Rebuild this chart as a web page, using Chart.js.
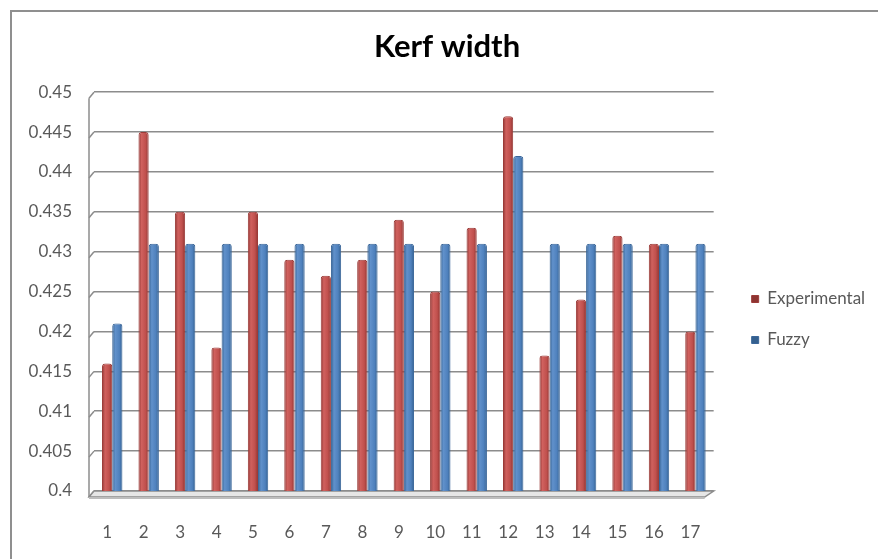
<!DOCTYPE html>
<html>
<head>
<meta charset="utf-8">
<title>Kerf width</title>
<script src="https://cdn.jsdelivr.net/npm/chart.js@4/dist/chart.umd.min.js"></script>
<style>
  html, body { margin: 0; padding: 0; background: #ffffff; }
  #wrap { position: relative; width: 878px; height: 559px; }
  canvas { display: block; }
</style>
</head>
<body>
<div id="wrap"><canvas id="chart" width="878" height="559"></canvas></div>
<script>
// Experiment numbers along the x axis
const runs = ['1','2','3','4','5','6','7','8','9','10','11','12','13','14','15','16','17'];

// Measured kerf width
const experimental = [0.416, 0.445, 0.435, 0.418, 0.435, 0.429, 0.427, 0.429, 0.434, 0.425, 0.433, 0.447, 0.417, 0.424, 0.432, 0.431, 0.420];

// Kerf width predicted by the fuzzy model
const fuzzy = [0.421, 0.431, 0.431, 0.431, 0.431, 0.431, 0.431, 0.431, 0.431, 0.431, 0.431, 0.442, 0.431, 0.431, 0.431, 0.431, 0.431];

// Value axis range and step
const yMin = 0.4;
const yMax = 0.45;
const yStep = 0.005;

const FONT = 'Lato, "Open Sans", "Liberation Sans", sans-serif';
const GRID = '#8c8c8c';

// Horizontal shading so each bar reads like a rounded column
function columnFill(base, light, dark) {
  return (c) => {
    const el = c.element;
    if (!el || !isFinite(el.x) || !el.width) return base;
    const g = c.chart.ctx.createLinearGradient(el.x - el.width / 2, 0, el.x + el.width / 2, 0);
    g.addColorStop(0, dark);
    g.addColorStop(0.3, light);
    g.addColorStop(0.7, base);
    g.addColorStop(1, dark);
    return g;
  };
}

// Outer frame, side wall and floor of the plot box
const boxDecor = {
  id: 'boxDecor',
  beforeDraw(chart) {
    const ctx = chart.ctx;
    ctx.save();
    ctx.fillStyle = '#ffffff';
    ctx.fillRect(0, 0, chart.width, chart.height);
    ctx.strokeStyle = '#8f8f8f';
    ctx.lineWidth = 2;
    ctx.beginPath();
    ctx.moveTo(11, chart.height);
    ctx.lineTo(11, 11);
    ctx.lineTo(chart.width, 11);
    ctx.stroke();
    ctx.restore();
  },
  beforeDatasetsDraw(chart) {
    const ctx = chart.ctx;
    const a = chart.chartArea;
    const y = chart.scales.y;
    const dx = 5, dy = 6;
    ctx.save();
    ctx.strokeStyle = GRID;
    ctx.lineWidth = 1.5;
    // left wall edge
    ctx.beginPath();
    ctx.moveTo(a.left - dx, y.getPixelForValue(yMax) + dy);
    ctx.lineTo(a.left - dx, a.bottom + dy);
    ctx.stroke();
    // short perspective joins from the wall to each gridline
    for (let v = yMin; v <= yMax + 1e-9; v += yStep) {
      const py = y.getPixelForValue(v);
      ctx.beginPath();
      ctx.moveTo(a.left - dx, py + dy);
      ctx.lineTo(a.left, py);
      ctx.stroke();
    }
    // floor slab
    ctx.fillStyle = '#e6e6e6';
    ctx.beginPath();
    ctx.moveTo(a.left, a.bottom);
    ctx.lineTo(a.right, a.bottom);
    ctx.lineTo(a.right - 9, a.bottom + dy);
    ctx.lineTo(a.left - dx, a.bottom + dy);
    ctx.closePath();
    ctx.fill();
    ctx.stroke();
    ctx.strokeStyle = '#bdbdbd';
    ctx.lineWidth = 2;
    ctx.beginPath();
    ctx.moveTo(a.left - dx, a.bottom + dy + 1);
    ctx.lineTo(a.right - 9, a.bottom + dy + 1);
    ctx.stroke();
    ctx.restore();
  }
};

const chart = new Chart(document.getElementById('chart'), {
  type: 'bar',
  data: {
    labels: runs,
    datasets: [
      {
        label: 'Experimental',
        data: experimental,
        backgroundColor: columnFill('#c0504d', '#d0615e', '#8e3431'),
        borderColor: '#9b3b38',
        borderWidth: 1,
        borderRadius: { topLeft: 3, topRight: 3 },
        borderSkipped: 'bottom',
        categoryPercentage: 0.56,
        barPercentage: 1.0
      },
      {
        label: 'Fuzzy',
        data: fuzzy,
        backgroundColor: columnFill('#4f81bd', '#6191cb', '#34608f'),
        borderColor: '#3a6699',
        borderWidth: 1,
        borderRadius: { topLeft: 3, topRight: 3 },
        borderSkipped: 'bottom',
        categoryPercentage: 0.56,
        barPercentage: 1.0
      }
    ]
  },
  options: {
    responsive: false,
    animation: false,
    layout: { padding: { left: 26, right: 10, top: 0, bottom: 18 } },
    plugins: {
      title: {
        display: true,
        text: 'Kerf width',
        color: '#000000',
        font: { family: FONT, size: 31, weight: 'bold' },
        padding: { top: 28, bottom: 27 }
      },
      legend: {
        display: true,
        position: 'right',
        align: 'center',
        title: {
          display: true,
          text: '',
          font: { family: FONT, size: 10 },
          padding: { top: 86, bottom: 0 }
        },
        labels: {
          boxWidth: 7,
          boxHeight: 7,
          padding: 24,
          color: '#595959',
          font: { family: FONT, size: 17 }
        }
      },
      tooltip: { enabled: false }
    },
    scales: {
      x: {
        offset: true,
        grid: { display: false, drawTicks: false },
        border: { display: false },
        ticks: {
          color: '#595959',
          font: { family: FONT, size: 17 },
          padding: 31,
          labelOffset: -5,
          maxRotation: 0,
          autoSkip: false
        },
        afterFit: (s) => { s.height = 50; }
      },
      y: {
        min: yMin,
        max: yMax,
        grid: { color: GRID, lineWidth: 1.5, drawTicks: false },
        border: { display: false },
        ticks: {
          stepSize: yStep,
          color: '#595959',
          font: { family: FONT, size: 17 },
          padding: 22,
          callback: (v) => String(parseFloat(Number(v).toFixed(3)))
        },
        afterFit: (s) => { s.width = 68; }
      },
      gap: {
        type: 'linear',
        position: 'right',
        display: true,
        grid: { display: false, drawTicks: false },
        border: { display: false },
        ticks: { display: false },
        afterFit: (s) => { s.width = 14; }
      }
    }
  },
  plugins: [boxDecor]
});

// second pass so the column shading can use each bar's laid-out position
chart.update('none');
</script>
</body>
</html>
